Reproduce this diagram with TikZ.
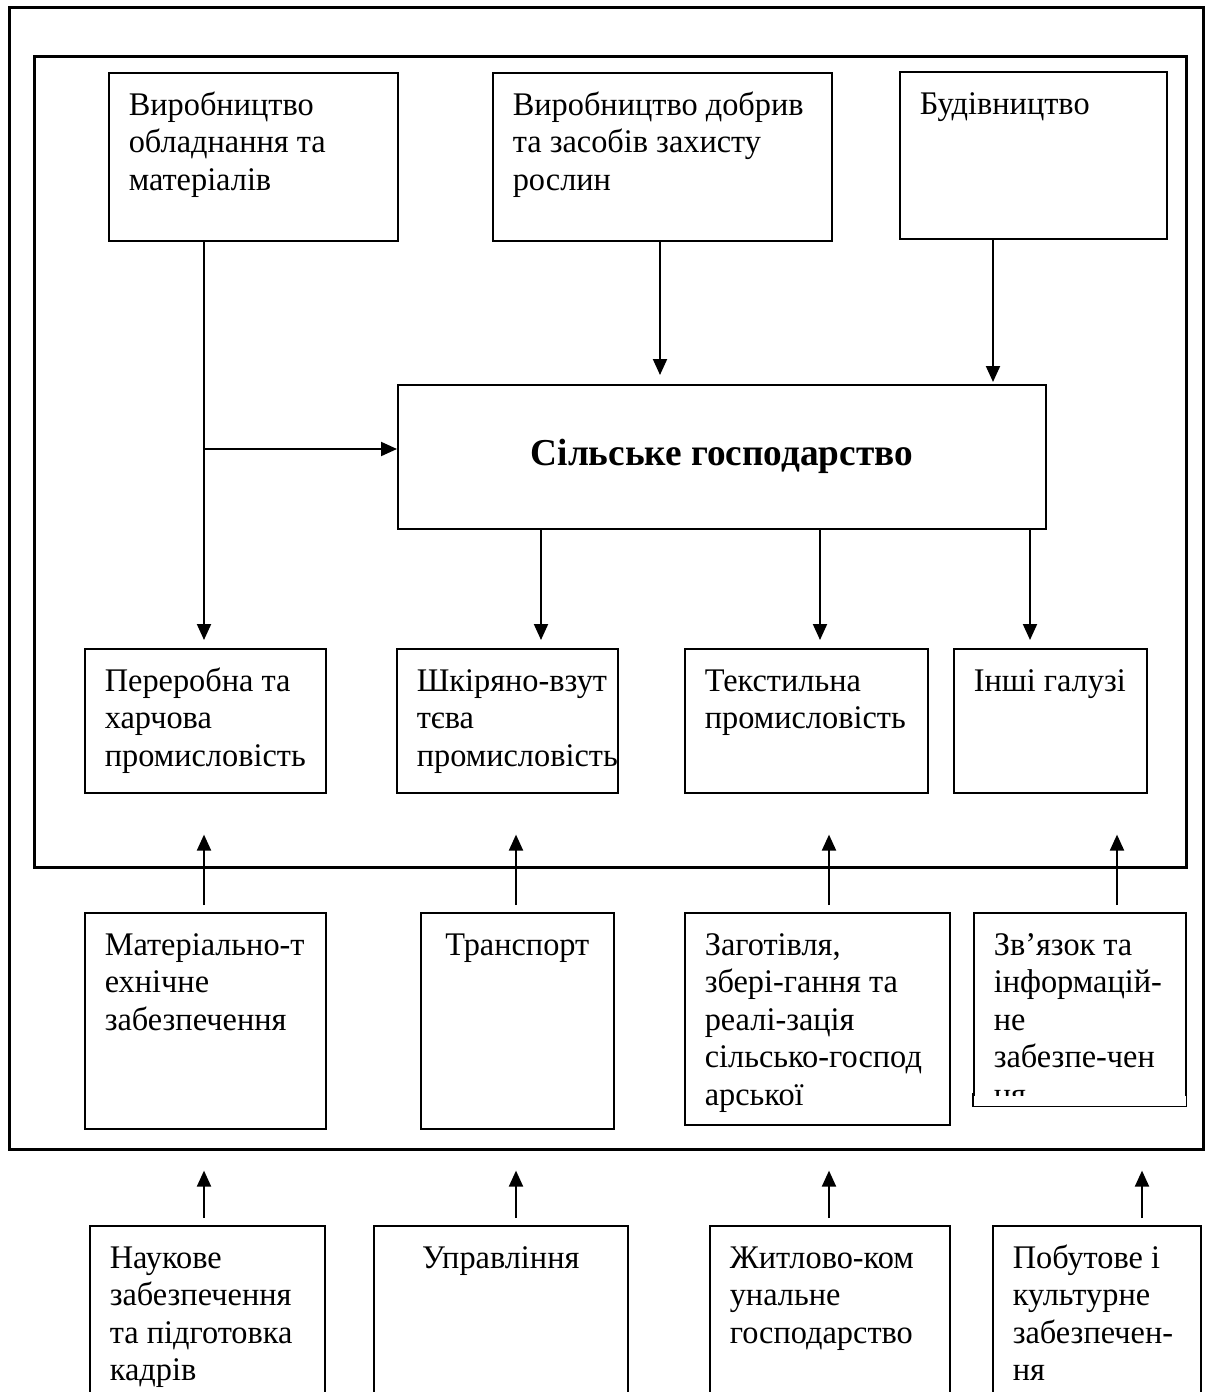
\documentclass[tikz,border=0pt]{standalone}
\usepackage{fontspec}
\setmainfont[FakeStretch=0.98]{Liberation Serif}
\usepackage{tikz}
\usetikzlibrary{arrows.meta}

% text of a box: width, height, lines
\newcommand{\unittext}[3]{\parbox[c][#2][t]{#1}{\begin{tabular}{@{}l@{}}#3\end{tabular}}}
\newcommand{\unitctext}[3]{\parbox[c][#2][t]{#1}{\centering\begin{tabular}{@{}c@{}}#3\end{tabular}}}

\begin{document}
\begin{tikzpicture}[
    x=1pt, y=-1pt,
    frame/.style={rectangle, draw, line width=2.6pt, anchor=north west, inner sep=0pt},
    unit/.style={rectangle, draw, line width=1.6pt, anchor=north west, inner xsep=20pt, inner ysep=16pt, font=\fontsize{33}{37.5}\selectfont},
    unitline/.style={line width=1.6pt},
    arrow/.style={-{Triangle[length=16pt, width=14pt]}, line width=2pt}
]
\useasboundingbox (0,0) rectangle (1211,1392);

% Frames
\node[frame, minimum width=1194pt, minimum height=1142pt] (outer) at (8,6) {};
\node[frame, minimum width=1152pt, minimum height=811pt] (inner) at (33,55) {};

% Suppliers
\node[unit] (vyrob) at (108,72) {\unittext{249pt}{136pt}{Виробництво\\обладнання та\\матеріалів}};
\node[unit] (dobryva) at (492,72) {\unittext{299pt}{136pt}{Виробництво добрив\\та засобів захисту\\рослин}};
\node[unit] (budiv) at (899,71) {\unittext{227pt}{135pt}{Будівництво}};

% Agriculture
\node[unit, inner sep=0pt, minimum width=648pt, minimum height=144pt, font=\fontsize{38}{44}\selectfont\bfseries] (sg) at (397,384) {Сільське господарство};

% Processing
\node[unit] (pererob) at (84,648) {\unittext{201pt}{112pt}{Переробна та\\харчова\\промисловість}};
\node[unit] (shkir) at (396,648) {\unittext{181pt}{112pt}{Шкіряно-взут\\тєва\\промисловість}};
\node[unit] (tekst) at (684,648) {\unittext{203pt}{112pt}{Текстильна\\промисловість}};
\node[unit] (inshi) at (953,648) {\unittext{153pt}{112pt}{Інші галузі}};

% Production infrastructure
\node[unit] (mtz) at (84,912) {\unittext{201pt}{184pt}{Матеріально-т\\ехнічне\\забезпечення}};
\node[unit] (transp) at (420,912) {\unitctext{153pt}{184pt}{Транспорт}};
\node[unit] (zagot) at (684,912) {\unittext{225pt}{180pt}{Заготівля,\\збері-гання та\\реалі-зація\\сільсько-господ\\арської}};
\begin{scope}
\clip (0,0) rectangle (1211,1095);
\node[unit] (zvyaz) at (973,912) {\unittext{172pt}{161pt}{Зв’язок та\\інформацій-\\не\\забезпе-чен\\ня}};
\end{scope}
\draw[unitline] ([yshift=14pt]zvyaz.south west) -- (zvyaz.south west) -- (zvyaz.south east) -- ([yshift=14pt]zvyaz.south east);

% Social infrastructure
\node[unit] (nauk) at (89,1225) {\unittext{195pt}{168pt}{Наукове\\забезпечення\\та підготовка\\кадрів}};
\node[unit] (uprav) at (373,1225) {\unitctext{214pt}{168pt}{Управління}};
\node[unit] (zhytl) at (709,1225) {\unittext{200pt}{168pt}{Житлово-ком\\унальне\\господарство}};
\node[unit] (pobut) at (992,1225) {\unittext{168pt}{168pt}{Побутове і\\культурне\\забезпечен-\\ня}};

% Links
\coordinate (join) at (204,449);
\draw[arrow, shorten >=8pt] (vyrob.south -| join) -- (pererob.north -| join);
\draw[arrow] (join) -- (join -| sg.west);
\draw[arrow, shorten >=9pt] (dobryva.south -| 660,0) -- (sg.north -| 660,0);
\draw[arrow, shorten >=2pt] (budiv.south -| 993,0) -- (sg.north -| 993,0);
\foreach \x/\n in {541/shkir, 820/tekst, 1030/inshi}
  \draw[arrow, shorten >=8pt] (sg.south -| \x,0) -- (\n.north -| \x,0);
\foreach \x/\n in {204/mtz, 516/transp, 829/zagot, 1117/zvyaz}
  \draw[arrow, shorten <=7pt, shorten >=-34pt] (\n.north -| \x,0) -- (inner.south -| \x,0);
\foreach \x/\n in {204/nauk, 516/uprav, 829/zhytl, 1142/pobut}
  \draw[arrow, shorten <=7pt, shorten >=20pt] (\n.north -| \x,0) -- (outer.south -| \x,0);

\end{tikzpicture}
\end{document}
